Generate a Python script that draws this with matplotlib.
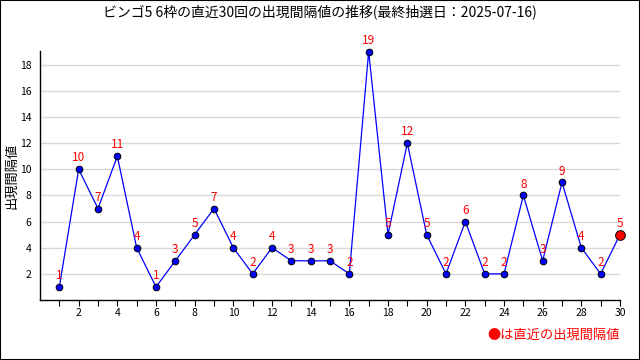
import matplotlib
matplotlib.use("Agg")
import matplotlib.pyplot as plt
from matplotlib.patches import Rectangle

plt.rcParams['font.family'] = ['Noto Sans CJK JP', 'DejaVu Sans']

# 直近30回の出現間隔値
draws = list(range(1, 31))
intervals = [1, 10, 7, 11, 4, 1, 3, 5, 7, 4, 2, 4, 3, 3, 3, 2, 19, 5, 12, 5,
             2, 6, 2, 2, 8, 3, 9, 4, 2, 5]
title = "ビンゴ5 6枠の直近30回の出現間隔値の推移(最終抽選日：2025-07-16)"
y_ticks = [2, 4, 6, 8, 10, 12, 14, 16, 18]
x_labels = [2, 4, 6, 8, 10, 12, 14, 16, 18, 20, 22, 24, 26, 28, 30]

fig = plt.figure(figsize=(6.4, 3.6), dpi=100)
ax = fig.add_axes([40 / 640, 60 / 360, 580 / 640, 249 / 360])

ax.plot(draws, intervals, color="#0000ff", lw=0.9, zorder=3, clip_on=False)
ax.plot(draws[:-1], intervals[:-1], "o", ms=4.8, mfc="#0000ff", mec="black",
        mew=0.7, zorder=4, clip_on=False)
ax.plot(draws[-1], intervals[-1], "o", ms=7, mfc="#ff0000", mec="black",
        mew=0.7, zorder=5, clip_on=False)

for x, v in zip(draws, intervals):
    ax.annotate(str(v), (x, v), xytext=(0, 3.5), textcoords="offset points",
                ha="center", va="bottom", color="#ff0000", fontsize=8.5,
                zorder=6)

ax.set_xlim(0, 30)
ax.set_ylim(0, 19.05)
ax.set_xticks(draws, minor=True)
ax.set_xticks(x_labels)
ax.set_xticklabels([str(v) for v in x_labels], fontsize=7.5)
ax.set_yticks(y_ticks)
ax.set_yticklabels([str(v) for v in y_ticks], fontsize=7.5)
ax.tick_params(axis="x", which="both", length=4, width=0.8, direction="out", pad=2)
ax.tick_params(axis="y", length=0, pad=6)
ax.grid(axis="y", color="#d9d9d9", lw=1)
ax.set_axisbelow(True)
for s in ["top", "right"]:
    ax.spines[s].set_visible(False)
ax.spines["left"].set_linewidth(1)
ax.spines["bottom"].set_linewidth(1)

ax.set_ylabel("出現間隔値", fontsize=9.5, labelpad=1)
fig.text(0.5, 1 - 12 / 360, title, ha="center", va="center", fontsize=10)
fig.text(620 / 640, 1 - 335 / 360, "●は直近の出現間隔値", ha="right",
         va="center", color="#ff0000", fontsize=9.5)

fig.patches.append(Rectangle((0, 0), 1, 1, transform=fig.transFigure,
                             fill=False, ec="black", lw=1.5))

fig.savefig("out.png", dpi=100)
